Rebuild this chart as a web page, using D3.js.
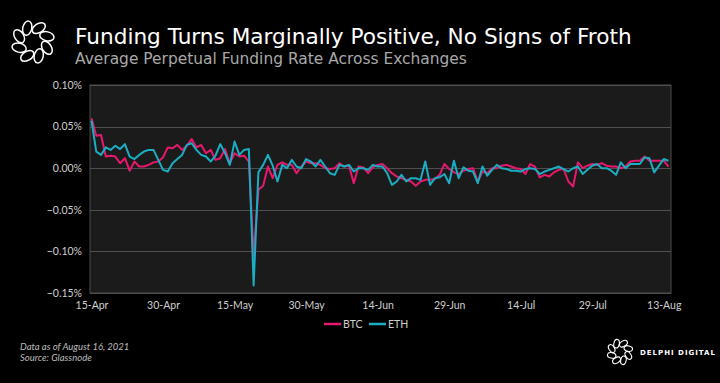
<!DOCTYPE html>
<html><head><meta charset="utf-8">
<script src="https://cdn.jsdelivr.net/npm/d3@7"></script>
<style>html,body{margin:0;padding:0;background:#000;}svg{display:block;}</style>
</head><body>
<svg id="c" width="720" height="383"></svg>
<script>
const startDate = "2021-04-15";
const btc = [0.060,0.039,0.040,0.014,0.015,0.014,0.006,0.012,-0.003,0.008,0.002,0.002,0.004,0.007,0.008,0.013,0.025,0.024,0.028,0.022,0.027,0.035,0.025,0.028,0.018,0.022,0.010,0.012,0.023,0.006,0.018,0.014,0.015,0.008,-0.105,-0.026,-0.021,0.002,-0.012,0.004,0.007,0.004,0.004,-0.006,0.002,0.008,0.006,0.006,0.004,0.000,-0.001,0.000,0.006,0.002,0.003,-0.018,0.002,0.001,-0.006,0.001,0.004,0.005,0.000,-0.006,-0.010,-0.012,-0.014,-0.016,-0.021,-0.016,-0.014,-0.014,-0.013,-0.008,0.005,-0.001,-0.005,-0.007,-0.003,-0.001,0.000,-0.016,-0.004,-0.006,0.000,0.000,0.003,0.004,0.002,0.000,-0.001,-0.007,0.005,0.002,-0.011,-0.008,-0.010,-0.005,-0.002,-0.001,-0.016,-0.022,0.007,0.000,0.003,0.005,0.004,0.006,0.003,0.002,0.002,0.000,0.002,0.008,0.009,0.009,0.014,0.009,0.009,0.009,0.009,0.002];
const eth = [0.057,0.020,0.016,0.025,0.022,0.027,0.023,0.029,0.014,0.011,0.016,0.020,0.022,0.022,0.010,-0.002,-0.004,0.006,0.011,0.016,0.028,0.030,0.022,0.016,0.014,0.008,0.015,0.029,0.018,0.004,0.032,0.016,0.022,0.023,-0.141,-0.005,0.004,0.016,0.003,-0.016,0.004,0.000,0.010,0.002,0.000,0.011,0.008,0.002,0.010,0.002,-0.006,-0.008,0.004,0.002,0.004,-0.004,0.000,0.000,-0.002,0.004,0.002,0.002,-0.006,-0.020,-0.016,-0.008,-0.016,-0.012,-0.012,-0.014,0.008,-0.020,-0.012,-0.011,-0.007,-0.018,0.009,-0.012,0.001,-0.003,-0.004,-0.018,0.002,-0.009,-0.002,0.004,0.000,-0.001,-0.003,-0.003,-0.004,-0.001,0.000,-0.001,-0.007,-0.004,-0.002,0.000,0.002,-0.001,-0.004,0.000,0.002,-0.007,-0.002,0.003,0.005,0.000,0.000,-0.003,-0.008,0.007,0.000,0.005,0.005,0.005,0.013,0.012,-0.005,0.003,0.011,0.009];
const yTicks = [0.10,0.05,0.00,-0.05,-0.10,-0.15];
const xTickLabels = ["15-Apr","30-Apr","15-May","30-May","14-Jun","29-Jun","14-Jul","29-Jul","13-Aug"];
const seriesNames = ["BTC","ETH"];
const seriesColors = ["#e8186d","#1aaec4"];

const svg = d3.select("#c");
const parse = d3.timeParse("%Y-%m-%d");
const d0 = parse(startDate);
const dates = btc.map((_, i) => d3.timeDay.offset(d0, i));
const fmt = d3.timeFormat("%-d-%b");
const xTickDates = xTickLabels.map((_, i) => d3.timeDay.offset(d0, i * 15));

const L = 90, R = 671, T = 85, B = 293;
const x = d3.scaleTime().domain([d0, dates[dates.length - 1]]).range([91.5, 668.5]);
const y = d3.scaleLinear().domain([-0.15, 0.10]).range([B, T]);

svg.append("rect").attr("x", L).attr("y", T).attr("width", R - L).attr("height", B - T)
  .attr("fill", "#1b1b1b").attr("stroke", "#4d4d4d").attr("stroke-width", 1);

svg.append("g").selectAll("line").data(yTicks).join("line")
  .attr("x1", L).attr("x2", R).attr("y1", d => Math.round(y(d)) + 0.5).attr("y2", d => Math.round(y(d)) + 0.5)
  .attr("stroke", "#4f4f4f").attr("stroke-width", 1.2);

const yAxis = d3.axisLeft(y).tickValues(yTicks).tickFormat(d => d3.format(".2f")(d) + "%").tickSize(0).tickPadding(8);
const gy = svg.append("g").attr("transform", `translate(${L},0)`).call(yAxis);
gy.select(".domain").remove();
gy.selectAll("text").attr("fill", "#cfcfcf").style("font-family", "Lato, 'Open Sans', sans-serif").style("font-size", "10.5px");

const xAxis = d3.axisBottom(x).tickValues(xTickDates).tickFormat(fmt).tickSize(0).tickPadding(9);
const gx = svg.append("g").attr("transform", `translate(0,${B})`).call(xAxis);
gx.select(".domain").remove();
gx.selectAll("text").attr("fill", "#cfcfcf").style("font-family", "Lato, 'Open Sans', sans-serif").style("font-size", "10.5px");

const line = d3.line().x((d, i) => x(dates[i])).y(d => y(d));
[btc, eth].forEach((s, k) => {
  svg.append("path").datum(s).attr("d", line).attr("fill", "none")
    .attr("stroke", seriesColors[k]).attr("stroke-width", 2).attr("stroke-linejoin", "round");
});

const lg = svg.append("g").attr("transform", "translate(324,324)");
const offs = [0, 45];
seriesNames.forEach((n, k) => {
  const g = lg.append("g").attr("transform", `translate(${offs[k]},0)`);
  g.append("line").attr("x1", 0).attr("x2", 17).attr("y1", 0).attr("y2", 0)
    .attr("stroke", seriesColors[k]).attr("stroke-width", 2.5);
  g.append("text").attr("x", 19).attr("y", 4).text(n).attr("fill", "#cfcfcf")
    .style("font-family", "Lato, 'Open Sans', sans-serif").style("font-size", "10.5px");
});

function fitText(sel, w) {
  const cur = sel.node().getComputedTextLength();
  const fs = parseFloat(sel.style("font-size"));
  sel.style("font-size", (fs * w / cur) + "px");
}
const title = svg.append("text").attr("x", 75).attr("y", 44).text("Funding Turns Marginally Positive, No Signs of Froth")
  .attr("fill", "#ffffff").style("font-family", "'DejaVu Sans', sans-serif").style("font-size", "19px");
fitText(title, 557);
const sub = svg.append("text").attr("x", 75).attr("y", 64).text("Average Perpetual Funding Rate Across Exchanges")
  .attr("fill", "#a9a9a9").style("font-family", "'DejaVu Sans', sans-serif").style("font-size", "13px");
fitText(sub, 392);

const foot = svg.append("g").style("font-family", "Lato, 'Open Sans', sans-serif").style("font-size", "9.5px")
  .style("font-style", "italic").attr("fill", "#bdbdbd");
foot.append("text").attr("x", 20).attr("y", 350).text("Data as of August 16, 2021");
foot.append("text").attr("x", 20).attr("y", 361).text("Source: Glassnode");

function logo(cx, cy, R0, sw) {
  const g = svg.append("g").attr("transform", `translate(${cx},${cy})`);
  const n = 8;
  for (let i = 0; i < n; i++) {
    const a = i * 360 / n + 22.5;
    g.append("ellipse").attr("cx", 0).attr("cy", -R0).attr("rx", R0 * 0.3).attr("ry", R0 * 0.48)
      .attr("transform", `rotate(${a}) rotate(35 0 ${-R0})`)
      .attr("fill", "none").attr("stroke", "#fff").attr("stroke-width", sw);
  }
}
logo(33, 42, 15, 1.5);
logo(620, 352, 9, 1.1);
svg.append("text").attr("x", 640).attr("y", 355).text("DELPHI DIGITAL").attr("fill", "#fff")
  .style("font-family", "'DejaVu Sans', sans-serif").style("font-size", "7px").style("font-weight", "bold")
  .style("letter-spacing", "1px");
</script>
</body></html>
